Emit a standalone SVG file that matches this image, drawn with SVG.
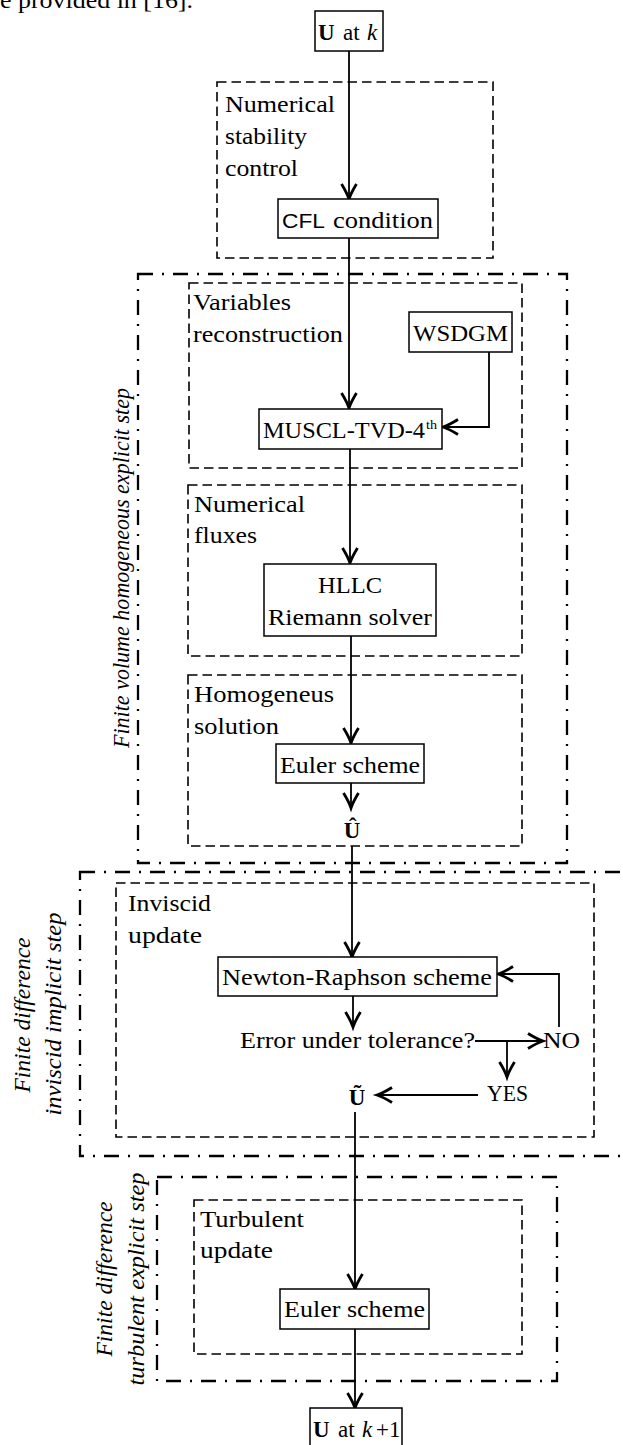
<svg xmlns="http://www.w3.org/2000/svg" width="623" height="1445" viewBox="0 0 623 1445">
<defs>
<style>
.t{font-family:"Liberation Serif","Times New Roman",serif;font-size:23px;fill:#000}
.s{font-family:"Liberation Sans",Arial,sans-serif;font-size:21px;fill:#000}
.it{font-style:italic}
.b{font-weight:bold}
.box{fill:#fff;stroke:#000;stroke-width:1.5}
.dash{fill:none;stroke:#000;stroke-width:1.6;stroke-dasharray:9.5 5}
.dd{fill:none;stroke:#000;stroke-width:2.3;stroke-dasharray:15 9 2 9}
.conn{fill:none;stroke:#000;stroke-width:1.8}
</style>
<marker id="arr" markerUnits="userSpaceOnUse" orient="auto" refX="0" refY="0" markerWidth="24" markerHeight="24" style="overflow:visible">
<path d="M-15,-7.5 Q-6,-2 0,0 Q-6,2 -15,7.5" fill="none" stroke="#000" stroke-width="2.8" stroke-linejoin="miter"/>
</marker>
</defs>
<rect width="623" height="1445" fill="#fff"/>

<text class="t" x="0" y="8" textLength="193" lengthAdjust="spacingAndGlyphs">e provided in [16].</text>

<g id="groups">
<rect id="g-stability" class="dash" x="217" y="82" width="276" height="176"/>
<rect id="g-fv" class="dd" x="138" y="274" width="429" height="589"/>
<rect id="g-varrec" class="dash" x="189" y="283" width="333" height="185"/>
<rect id="g-fluxes" class="dash" x="188" y="485" width="334" height="171"/>
<rect id="g-homog" class="dash" x="188" y="675" width="334" height="171"/>
<rect id="g-fdinv" class="dd" x="80" y="872" width="560" height="284"/>
<rect id="g-invupd" class="dash" x="116" y="883" width="478" height="254"/>
<rect id="g-fdturb" class="dd" x="157" y="1177" width="400" height="204"/>
<rect id="g-turbupd" class="dash" x="194" y="1200" width="328" height="154"/>
</g>

<g id="group-labels">
<text class="t" x="225" y="112" textLength="110" lengthAdjust="spacingAndGlyphs">Numerical</text>
<text class="t" x="225" y="144" textLength="82" lengthAdjust="spacingAndGlyphs">stability</text>
<text class="t" x="225" y="176" textLength="73" lengthAdjust="spacingAndGlyphs">control</text>
<text class="t" x="193" y="310" textLength="98" lengthAdjust="spacingAndGlyphs">Variables</text>
<text class="t" x="193" y="342" textLength="150" lengthAdjust="spacingAndGlyphs">reconstruction</text>
<text class="t" x="194" y="512" textLength="111" lengthAdjust="spacingAndGlyphs">Numerical</text>
<text class="t" x="194" y="543" textLength="63" lengthAdjust="spacingAndGlyphs">fluxes</text>
<text class="t" x="194" y="702" textLength="140" lengthAdjust="spacingAndGlyphs">Homogeneus</text>
<text class="t" x="194" y="734" textLength="85" lengthAdjust="spacingAndGlyphs">solution</text>
<text class="t" x="128" y="911" textLength="83" lengthAdjust="spacingAndGlyphs">Inviscid</text>
<text class="t" x="128" y="943" textLength="74" lengthAdjust="spacingAndGlyphs">update</text>
<text class="t" x="200" y="1227" textLength="104" lengthAdjust="spacingAndGlyphs">Turbulent</text>
<text class="t" x="200" y="1258" textLength="73" lengthAdjust="spacingAndGlyphs">update</text>
<text class="t it" transform="translate(129,568) rotate(-90)" text-anchor="middle" textLength="360" lengthAdjust="spacingAndGlyphs">Finite volume homogeneous explicit step</text>
<text class="t it" transform="translate(30,1015) rotate(-90)" text-anchor="middle" textLength="155" lengthAdjust="spacingAndGlyphs">Finite difference</text>
<text class="t it" transform="translate(61,1014) rotate(-90)" text-anchor="middle" textLength="203" lengthAdjust="spacingAndGlyphs">inviscid implicit step</text>
<text class="t it" transform="translate(112,1279) rotate(-90)" text-anchor="middle" textLength="155" lengthAdjust="spacingAndGlyphs">Finite difference</text>
<text class="t it" transform="translate(144,1279) rotate(-90)" text-anchor="middle" textLength="213" lengthAdjust="spacingAndGlyphs">turbulent explicit step</text>
</g>

<g id="connectors">
<path class="conn" d="M349,51 V199" marker-end="url(#arr)"/>
<path class="conn" d="M349,238 V408" marker-end="url(#arr)"/>
<path class="conn" d="M489,352 V427 H443" marker-end="url(#arr)"/>
<path class="conn" d="M350,449 V563" marker-end="url(#arr)"/>
<path class="conn" d="M351,636 V743" marker-end="url(#arr)"/>
<path class="conn" d="M351,783 V808" marker-end="url(#arr)"/>
<path class="conn" d="M352,846 V957" marker-end="url(#arr)"/>
<path class="conn" d="M353,996 V1027" marker-end="url(#arr)"/>
<path class="conn" d="M475,1041 H543" marker-end="url(#arr)"/>
<path class="conn" d="M507,1041 V1077" marker-end="url(#arr)"/>
<path class="conn" d="M559,1027 V974 H498" marker-end="url(#arr)"/>
<path class="conn" d="M478,1095 H377" marker-end="url(#arr)"/>
<path class="conn" d="M355,1112 V1289" marker-end="url(#arr)"/>
<path class="conn" d="M355,1329 V1408" marker-end="url(#arr)"/>
</g>

<g id="n-uk">
<rect class="box" x="315" y="11" width="68" height="40"/>
<text class="t"><tspan class="b" x="318" y="40">U</tspan><tspan x="343" y="40">at</tspan><tspan class="it" x="367" y="40">k</tspan></text>
</g>
<g id="n-cfl">
<rect class="box" x="278" y="199" width="160" height="39"/>
<text class="s" x="282" y="228" textLength="43" lengthAdjust="spacingAndGlyphs">CFL</text>
<text class="t" x="333" y="228" textLength="100" lengthAdjust="spacingAndGlyphs">condition</text>
</g>
<g id="n-wsdgm">
<rect class="box" x="409" y="312" width="103" height="40"/>
<text class="t" x="413" y="341" textLength="95" lengthAdjust="spacingAndGlyphs">WSDGM</text>
</g>
<g id="n-muscl">
<rect class="box" x="259" y="409" width="183" height="40"/>
<text class="t" x="263" y="438" textLength="162" lengthAdjust="spacingAndGlyphs">MUSCL-TVD-4</text>
<text class="t" x="426" y="429" style="font-size:13px" textLength="11" lengthAdjust="spacingAndGlyphs">th</text>
</g>
<g id="n-hllc">
<rect class="box" x="264" y="564" width="172" height="72"/>
<text class="t" x="318" y="593" textLength="64" lengthAdjust="spacingAndGlyphs">HLLC</text>
<text class="t" x="268" y="625" textLength="164" lengthAdjust="spacingAndGlyphs">Riemann solver</text>
</g>
<g id="n-euler1">
<rect class="box" x="276" y="744" width="148" height="39"/>
<text class="t" x="280" y="773" textLength="140" lengthAdjust="spacingAndGlyphs">Euler scheme</text>
</g>
<g id="n-uhat">
<text class="t b" x="352" y="838" text-anchor="middle">Û</text>
</g>
<g id="n-newton">
<rect class="box" x="218" y="957" width="279" height="39"/>
<text class="t" x="222" y="985" textLength="270" lengthAdjust="spacingAndGlyphs">Newton-Raphson scheme</text>
</g>
<g id="n-error">
<text class="t" x="240" y="1048" textLength="235" lengthAdjust="spacingAndGlyphs">Error under tolerance?</text>
</g>
<g id="n-no">
<text class="t" x="543" y="1048" textLength="37" lengthAdjust="spacingAndGlyphs">NO</text>
</g>
<g id="n-yes">
<text class="t" x="487" y="1101" textLength="41" lengthAdjust="spacingAndGlyphs">YES</text>
</g>
<g id="n-utilde">
<text class="t b" x="357" y="1105" text-anchor="middle">Ũ</text>
</g>
<g id="n-euler2">
<rect class="box" x="280" y="1289" width="149" height="40"/>
<text class="t" x="284" y="1317" textLength="141" lengthAdjust="spacingAndGlyphs">Euler scheme</text>
</g>
<g id="n-uk1">
<rect class="box" x="310" y="1408" width="92" height="45"/>
<text class="t"><tspan class="b" x="313" y="1437">U</tspan><tspan x="338" y="1437">at</tspan><tspan class="it" x="362" y="1437">k</tspan><tspan x="376" y="1437">+1</tspan></text>
</g>
</svg>
